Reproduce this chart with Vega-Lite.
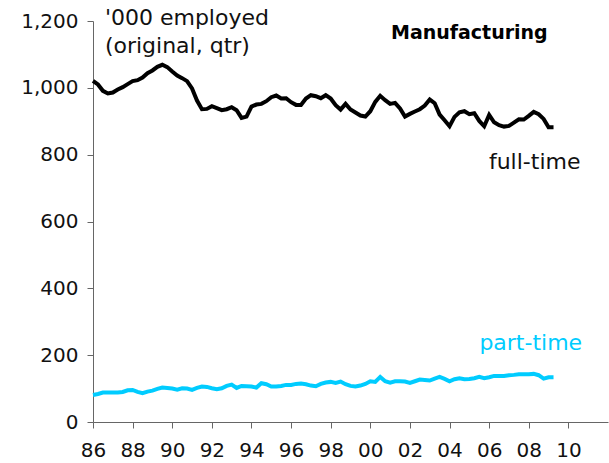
{
  "$schema": "https://vega.github.io/schema/vega-lite/v6.json",
  "width": 515,
  "height": 401,
  "autosize": {"type": "none"},
  "padding": {"left": 93, "top": 21, "right": 1, "bottom": 41},
  "background": "white",
  "config": {"view": {"stroke": null}, "font": "DejaVu Sans"},
  "datasets": {
    "emp": [
      {"t":1986,"full":1021,"part":81},{"t":1986.25,"full":1010,"part":84},{"t":1986.5,"full":991,"part":88},{"t":1986.75,"full":983,"part":88},
      {"t":1987,"full":986,"part":88},{"t":1987.25,"full":995,"part":88},{"t":1987.5,"full":1002,"part":90},{"t":1987.75,"full":1011,"part":95},
      {"t":1988,"full":1020,"part":96},{"t":1988.25,"full":1023,"part":90},{"t":1988.5,"full":1031,"part":86},{"t":1988.75,"full":1044,"part":91},
      {"t":1989,"full":1052,"part":94},{"t":1989.25,"full":1063,"part":99},{"t":1989.5,"full":1069,"part":103},{"t":1989.75,"full":1062,"part":102},
      {"t":1990,"full":1049,"part":100},{"t":1990.25,"full":1037,"part":97},{"t":1990.5,"full":1029,"part":101},{"t":1990.75,"full":1020,"part":100},
      {"t":1991,"full":998,"part":96},{"t":1991.25,"full":962,"part":102},{"t":1991.5,"full":936,"part":106},{"t":1991.75,"full":937,"part":105},
      {"t":1992,"full":945,"part":101},{"t":1992.25,"full":939,"part":98},{"t":1992.5,"full":933,"part":101},{"t":1992.75,"full":936,"part":108},
      {"t":1993,"full":942,"part":112},{"t":1993.25,"full":933,"part":102},{"t":1993.5,"full":910,"part":108},{"t":1993.75,"full":914,"part":107},
      {"t":1994,"full":944,"part":106},{"t":1994.25,"full":950,"part":103},{"t":1994.5,"full":952,"part":116},{"t":1994.75,"full":960,"part":113},
      {"t":1995,"full":972,"part":106},{"t":1995.25,"full":977,"part":106},{"t":1995.5,"full":968,"part":108},{"t":1995.75,"full":969,"part":111},
      {"t":1996,"full":957,"part":111},{"t":1996.25,"full":949,"part":114},{"t":1996.5,"full":949,"part":115},{"t":1996.75,"full":968,"part":113},
      {"t":1997,"full":978,"part":109},{"t":1997.25,"full":975,"part":107},{"t":1997.5,"full":969,"part":114},{"t":1997.75,"full":978,"part":118},
      {"t":1998,"full":968,"part":120},{"t":1998.25,"full":948,"part":117},{"t":1998.5,"full":935,"part":121},{"t":1998.75,"full":952,"part":113},
      {"t":1999,"full":935,"part":108},{"t":1999.25,"full":926,"part":106},{"t":1999.5,"full":917,"part":109},{"t":1999.75,"full":914,"part":114},
      {"t":2000,"full":930,"part":122},{"t":2000.25,"full":958,"part":120},{"t":2000.5,"full":976,"part":135},{"t":2000.75,"full":963,"part":122},
      {"t":2001,"full":952,"part":118},{"t":2001.25,"full":955,"part":122},{"t":2001.5,"full":938,"part":122},{"t":2001.75,"full":914,"part":121},
      {"t":2002,"full":922,"part":117},{"t":2002.25,"full":929,"part":122},{"t":2002.5,"full":936,"part":127},{"t":2002.75,"full":947,"part":126},
      {"t":2003,"full":965,"part":124},{"t":2003.25,"full":954,"part":130},{"t":2003.5,"full":920,"part":135},{"t":2003.75,"full":903,"part":129},
      {"t":2004,"full":885,"part":122},{"t":2004.25,"full":913,"part":128},{"t":2004.5,"full":927,"part":131},{"t":2004.75,"full":930,"part":128},
      {"t":2005,"full":921,"part":129},{"t":2005.25,"full":924,"part":131},{"t":2005.5,"full":901,"part":135},{"t":2005.75,"full":885,"part":131},
      {"t":2006,"full":919,"part":134},{"t":2006.25,"full":897,"part":138},{"t":2006.5,"full":888,"part":138},{"t":2006.75,"full":884,"part":138},
      {"t":2007,"full":886,"part":140},{"t":2007.25,"full":896,"part":141},{"t":2007.5,"full":906,"part":143},{"t":2007.75,"full":905,"part":143},
      {"t":2008,"full":916,"part":143},{"t":2008.25,"full":928,"part":144},{"t":2008.5,"full":921,"part":140},{"t":2008.75,"full":907,"part":130},
      {"t":2009,"full":882,"part":134},{"t":2009.25,"full":882,"part":134}
    ]
  },
  "layer": [
    {
      "data": {"name": "emp"},
      "mark": {"type": "line", "color": "#00CCFF", "strokeWidth": 4},
      "encoding": {
        "x": {
          "field": "t", "type": "quantitative",
          "scale": {"domain": [1986, 2012], "nice": false, "zero": false},
          "axis": {
            "title": null, "grid": false,
            "values": [1986,1988,1990,1992,1994,1996,1998,2000,2002,2004,2006,2008,2010],
            "labelExpr": "slice('0' + (datum.value % 100), -2)",
            "labelFlush": false, "labelOverlap": false,
            "tickSize": 6, "labelPadding": 12, "labelFontSize": 20, "labelColor": "#111",
            "domainColor": "#666", "tickColor": "#666", "labelFont": "DejaVu Sans"
          }
        },
        "y": {
          "field": "part", "type": "quantitative",
          "scale": {"domain": [0, 1200], "nice": false},
          "axis": {
            "title": null, "grid": false,
            "values": [0,200,400,600,800,1000,1200],
            "format": ",d",
            "labelFlush": false, "labelOverlap": false,
            "tickSize": 6, "labelPadding": 9, "labelFontSize": 20, "labelColor": "#111",
            "domainColor": "#666", "tickColor": "#666", "labelFont": "DejaVu Sans"
          }
        }
      }
    },
    {
      "data": {"name": "emp"},
      "mark": {"type": "line", "color": "#000000", "strokeWidth": 4},
      "encoding": {
        "x": {"field": "t", "type": "quantitative"},
        "y": {"field": "full", "type": "quantitative"}
      }
    },
    {
      "data": {"values": [
        {"x": 1986.6, "y": 1210, "label": "'000 employed"},
        {"x": 1986.6, "y": 1126, "label": "(original, qtr)"}
      ]},
      "mark": {"type": "text", "align": "left", "baseline": "middle", "fontSize": 22, "color": "#111"},
      "encoding": {
        "x": {"field": "x", "type": "quantitative"},
        "y": {"field": "y", "type": "quantitative"},
        "text": {"field": "label"}
      }
    },
    {
      "data": {"values": [{"x": 2005.0, "y": 1165, "label": "Manufacturing"}]},
      "mark": {"type": "text", "align": "center", "baseline": "middle", "fontSize": 19, "fontWeight": "bold", "color": "#000"},
      "encoding": {
        "x": {"field": "x", "type": "quantitative"},
        "y": {"field": "y", "type": "quantitative"},
        "text": {"field": "label"}
      }
    },
    {
      "data": {"values": [{"x": 2008.3, "y": 778, "label": "full-time"}]},
      "mark": {"type": "text", "align": "center", "baseline": "middle", "fontSize": 22, "color": "#111"},
      "encoding": {
        "x": {"field": "x", "type": "quantitative"},
        "y": {"field": "y", "type": "quantitative"},
        "text": {"field": "label"}
      }
    },
    {
      "data": {"values": [{"x": 2008.1, "y": 236, "label": "part-time"}]},
      "mark": {"type": "text", "align": "center", "baseline": "middle", "fontSize": 22, "color": "#00CCFF"},
      "encoding": {
        "x": {"field": "x", "type": "quantitative"},
        "y": {"field": "y", "type": "quantitative"},
        "text": {"field": "label"}
      }
    }
  ]
}
